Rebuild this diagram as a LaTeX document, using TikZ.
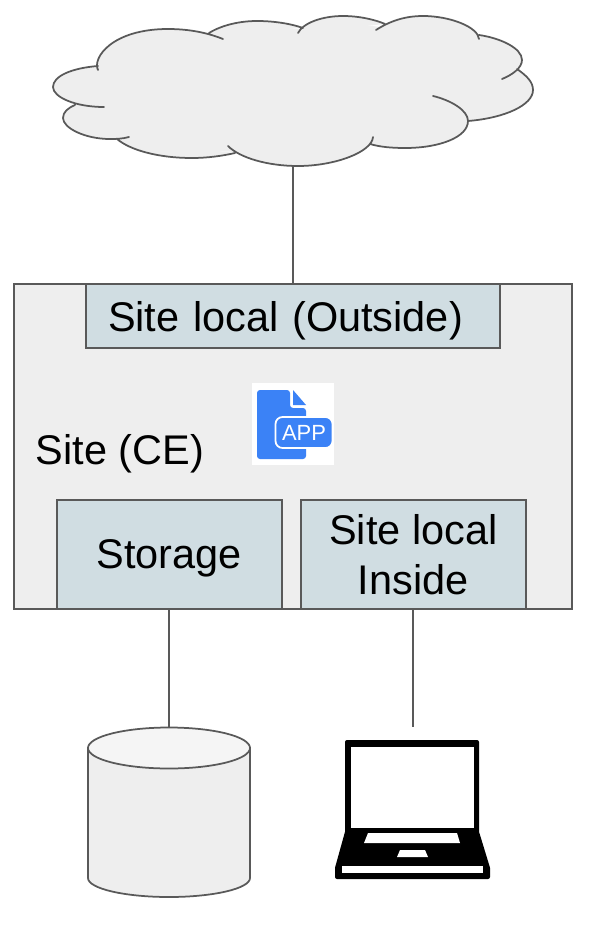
\documentclass[tikz,border=0pt]{standalone}
\usepackage{fontspec}
\setmainfont{Liberation Sans}

\tikzset{
    linegrey/.style={draw=black!65, line width=0.035cm},
    bigtext/.style={font=\fontsize{23.6}{28}\selectfont, text depth=0pt},
    bluebox/.style={linegrey, fill=boxblue, align=center, bigtext},
}
\definecolor{paleback}{HTML}{EEEEEE}
\definecolor{paletop}{HTML}{F5F5F5}
\definecolor{boxblue}{HTML}{D0DDE2}
\definecolor{appblue}{HTML}{3B82F6}

% Cloud outline, one open arc per lobe
\newcommand{\cloudlobes}{
    (98,70) .. controls (92,58) and (112,29) .. (168,29) .. controls (190,29) and (208,33) .. (223,39)
    (209,33) .. controls (222,25) and (240,21) .. (257,21) .. controls (275,21) and (292,24) .. (303,28)
    (298,33) .. controls (303,23) and (322,16) .. (343,16) .. controls (360,16) and (376,20) .. (385,24)
    (376,30) .. controls (390,21) and (405,16) .. (423,16) .. controls (450,16) and (478,27) .. (479,39)
    (479,35) .. controls (500,38) and (522,48) .. (522,60) .. controls (522,68) and (512,75) .. (502,79)
    (517,69) .. controls (527,76) and (533,82) .. (533,90) .. controls (533,105) and (505,118) .. (468,121)
    (433,96) .. controls (450,100) and (468,110) .. (468,121) .. controls (468,137) and (440,148) .. (405,148) .. controls (392,148) and (380,147) .. (370,144)
    (373,137) .. controls (372,152) and (335,166) .. (298,166) .. controls (268,166) and (240,158) .. (228,146)
    (235,153) .. controls (222,156) and (207,158) .. (192,158) .. controls (158,158) and (130,150) .. (117,139)
    (129,137) .. controls (122,139) and (115,139) .. (110,139) .. controls (85,139) and (63,128) .. (63,118) .. controls (63,112) and (68,108) .. (75,105)
    (104,107) .. controls (75,107) and (53,97) .. (53,87) .. controls (53,76) and (72,68) .. (98,66)
}

\begin{document}
\begin{tikzpicture}[x=0.02cm, y=-0.02cm]
    \useasboundingbox (0,0) rectangle (600,926);

    % Draw cloud
    \fill[paleback] (96,66) -- (168,40) -- (209,33) -- (257,26) -- (300,29) -- (343,22) -- (380,27) -- (423,24) -- (479,37)
        -- (505,55) -- (513,74) -- (510,100) -- (468,121) -- (420,140) -- (372,143) -- (298,160) -- (238,152)
        -- (180,150) -- (120,139) -- (85,125) -- (75,106) -- (70,90) -- cycle;
    \fill[paleback] \cloudlobes;
    \draw[linegrey, line cap=round] \cloudlobes;
    \coordinate (cloud) at (293,166);

    % Draw site and its boxes
    \node[linegrey, fill=paleback, minimum width=11.16cm, minimum height=6.5cm] (site) at (293,446.5) {};
    \node[bluebox, minimum width=8.28cm, minimum height=1.28cm, inner xsep=0.44cm, text width=7.4cm, align=left] (outside) at (293,316) {Site local (Outside)};
    \node[bluebox, minimum width=4.5cm, minimum height=2.18cm, inner sep=0pt] (storage) at (169.3,554.5) {Storage};
    \node[bluebox, minimum width=4.5cm, minimum height=2.18cm, inner sep=0pt] (inside) at (413.3,554.5) {Site local\\Inside};
    \node[bigtext, inner sep=0pt] (sitelabel) at (120,449) {Site (CE)};

    % Draw app icon
    \node[fill=white, minimum size=1.64cm, inner sep=0pt] (appback) at (293,424) {};
    \fill[appblue, rounded corners=0.06cm] (257,390) -- (290,390) -- (290,408) -- (306,408) -- (306,459) -- (257,459) -- cycle;
    \fill[appblue] (293,390) -- (306,405) -- (293,405) -- cycle;
    \node[draw=white, line width=0.035cm, fill=appblue, text=white, rounded corners=0.14cm, minimum width=1.14cm, minimum height=0.62cm, inner sep=0pt, font=\fontsize{12.5}{14}\selectfont] (appname) at (304,432.5) {APP};

    % Draw storage drum
    \filldraw[linegrey, fill=paleback] (88,748) -- (88,878) arc[start angle=180, end angle=360, x radius=81, y radius=-19] -- (250,748) -- cycle;
    \filldraw[linegrey, fill=paletop] (169,748) ellipse[x radius=81, y radius=20.5];
    \coordinate (drum) at (169.3,727.5);

    % Draw laptop
    \fill[black, line join=round, line width=0.08cm, draw=black] (347,742) -- (477,742) -- (477,832) -- (488,868) -- (488,877) -- (337,877) -- (337,868) -- (347,832) -- cycle;
    \fill[white] (351,747) rectangle (474,828);
    \fill[white] (368,833) -- (457,833) -- (460,843) -- (364,843) -- cycle;
    \fill[white] (400,850) -- (425,850) -- (428,857) -- (397,857) -- cycle;
    \fill[white] (342,866) rectangle (483,873);
    \coordinate (laptop) at (413.3,727);

    % Draw connections
    \draw[linegrey] (cloud) -- (outside.north);
    \draw[linegrey] (storage.south) -- (drum);
    \draw[linegrey] (inside.south) -- (laptop);
\end{tikzpicture}
\end{document}
